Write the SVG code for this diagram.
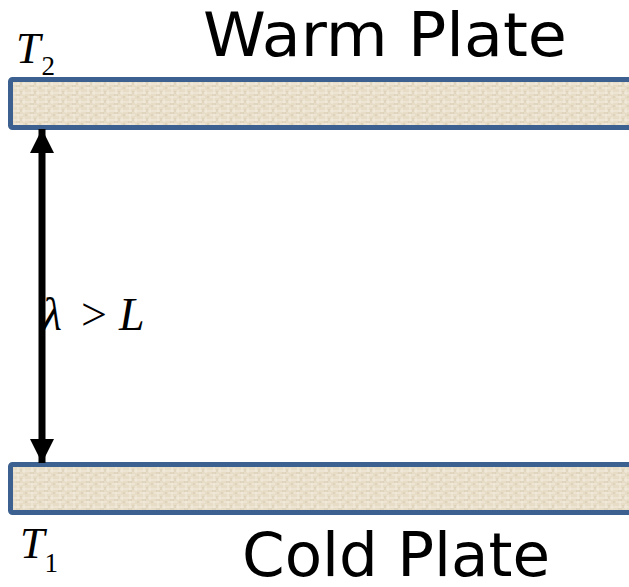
<svg xmlns="http://www.w3.org/2000/svg" width="629" height="587" viewBox="0 0 629 587">
<style>
.plate{fill:url(#tex);stroke:#3c6090;stroke-width:5}
.big{font-family:"DejaVu Sans",Verdana,sans-serif;font-size:60px;fill:#000}
.math{font-family:"Liberation Serif","Times New Roman",serif;font-style:italic;fill:#000}
</style>
<defs>
<pattern id="tex" width="14" height="9" patternUnits="userSpaceOnUse">
<rect width="14" height="9" fill="#e7dcc6"/>
<path d="M0 3H14M0 7H9M4 0V9M10 0V5" stroke="#f3ece0" stroke-width="1"/>
<path d="M2 5H6M11 7H13M7 1V4" stroke="#d5c8ae" stroke-width="1"/>
</pattern>
<marker id="ah" viewBox="0 0 24 24" markerWidth="24" markerHeight="24" refX="24" refY="12" orient="auto" markerUnits="userSpaceOnUse">
<path d="M0 0L24 12L0 24z" fill="#000"/>
</marker>
</defs>
<g id="warm-plate">
<rect class="plate" x="10.5" y="79.5" width="640" height="48" rx="2"/>
<text class="big" x="203" y="56" textLength="364" lengthAdjust="spacingAndGlyphs">Warm Plate</text>
<text class="math" x="16" y="63" font-size="44">T<tspan font-style="normal" font-size="27" dx="1" dy="12">2</tspan></text>
</g>
<g id="cold-plate">
<rect class="plate" x="10.5" y="464.5" width="640" height="48" rx="2"/>
<text class="big" x="242" y="576" textLength="308" lengthAdjust="spacingAndGlyphs">Cold Plate</text>
<text class="math" x="20" y="558" font-size="44">T<tspan font-style="normal" font-size="27" dx="0" dy="14">1</tspan></text>
</g>
<g id="connectors">
<line x1="42" y1="300" x2="42" y2="129" stroke="#000" stroke-width="7" marker-end="url(#ah)"/>
<line x1="42" y1="300" x2="42" y2="463" stroke="#000" stroke-width="7" marker-end="url(#ah)"/>
</g>
<g id="label">
<text class="math" y="330" font-size="46"><tspan x="42">λ</tspan><tspan x="81" font-style="normal">&gt;</tspan><tspan x="119">L</tspan></text>
</g>
</svg>
